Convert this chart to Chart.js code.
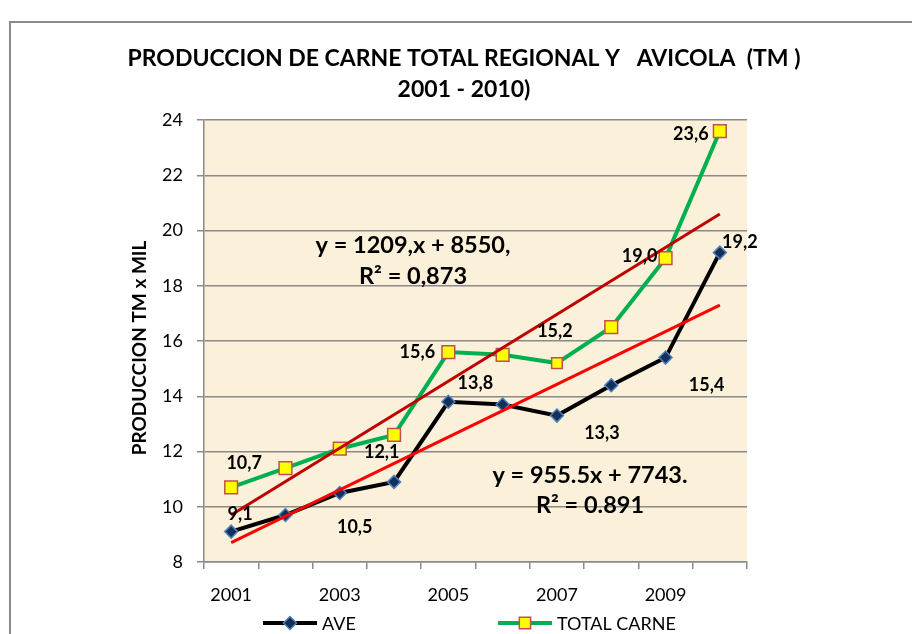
<!DOCTYPE html>
<html>
<head>
<meta charset="utf-8">
<script src="https://cdn.jsdelivr.net/npm/chart.js@4.4.0/dist/chart.umd.min.js"></script>
<style>
    html, body { margin: 0; padding: 0; background: #fff; }
    #wrap { width: 912px; height: 634px; }
</style>
</head>
<body>
<div id="wrap"><canvas id="chart" width="912" height="634"></canvas></div>
<script>
const years = ['2001', '2002', '2003', '2004', '2005', '2006', '2007', '2008', '2009', '2010'];
const aveValues = [9.1, 9.7, 10.5, 10.9, 13.8, 13.7, 13.3, 14.4, 15.4, 19.2];
const totalValues = [10.7, 11.4, 12.1, 12.6, 15.6, 15.5, 15.2, 16.5, 19.0, 23.6];
// trend lines, value at 2001 and at 2010
const aveTrend = [8.7, 17.3];
const totalTrend = [9.7, 20.6];
const yMin = 8;
const yMax = 24;
const yStep = 2;
const titleLines = ['PRODUCCION DE CARNE TOTAL REGIONAL Y   AVICOLA  (TM )', '2001 - 2010)'];
const yTitle = 'PRODUCCION TM x MIL';
const aveEquation = ['y = 955.5x + 7743.', 'R² = 0.891'];
const totalEquation = ['y = 1209,x + 8550,', 'R² = 0,873'];
const labelledPoints = [0, 2, 4, 6, 8, 9];

const FONT = 'Lato, "Open Sans", sans-serif';

// where each value label sits relative to its point (px)
const aveLabelOffset = {0: [9, -17], 2: [15, 34], 4: [27, -19], 6: [45, 18], 8: [41, 28], 9: [20, -10]};
const totalLabelOffset = {0: [13, -24], 2: [42, 3], 4: [-31, 0], 6: [-2, -32], 8: [-26, -2], 9: [-29, 3]};

function trendData(ends) {
    const arr = years.map(() => null);
    arr[0] = ends[0];
    arr[arr.length - 1] = ends[1];
    return arr;
}

function fmt(v) {
    return v.toFixed(1).replace('.', ',');
}

const decorPlugin = {
    id: 'decor',
    beforeDraw(chart) {
        const ctx = chart.ctx;
        const a = chart.chartArea;
        ctx.save();
        ctx.fillStyle = '#fbf0d9';
        ctx.fillRect(a.left, a.top, a.right - a.left, a.bottom - a.top);
        // outer frame
        ctx.strokeStyle = '#8a8a8a';
        ctx.lineWidth = 2;
        ctx.beginPath();
        ctx.moveTo(10, 634);
        ctx.lineTo(10, 22);
        ctx.lineTo(912, 22);
        ctx.stroke();
        ctx.restore();
    },
    afterDraw(chart) {
        const ctx = chart.ctx;
        ctx.save();
        ctx.fillStyle = '#000';
        ctx.textAlign = 'center';
        ctx.textBaseline = 'middle';

        ctx.font = 'bold 23px ' + FONT;
        ctx.fillText(titleLines[0], 464, 59);
        ctx.fillText(titleLines[1], 464, 90);

        ctx.save();
        ctx.translate(140, 348);
        ctx.rotate(-Math.PI / 2);
        ctx.font = 'bold 19px ' + FONT;
        ctx.fillText(yTitle, 0, 0);
        ctx.restore();

        ctx.font = 'bold 23.5px ' + FONT;
        ctx.fillText(totalEquation[0], 413, 245);
        ctx.fillText(totalEquation[1], 413, 276);
        ctx.fillText(aveEquation[0], 590, 475);
        ctx.fillText(aveEquation[1], 590, 505);

        // value labels
        ctx.font = 'bold 18px ' + FONT;
        const aveMeta = chart.getDatasetMeta(2);
        const totalMeta = chart.getDatasetMeta(3);
        labelledPoints.forEach(function (i) {
            let p = aveMeta.data[i];
            let o = aveLabelOffset[i];
            ctx.fillText(fmt(aveValues[i]), p.x + o[0], p.y + o[1]);
            p = totalMeta.data[i];
            o = totalLabelOffset[i];
            ctx.fillText(fmt(totalValues[i]), p.x + o[0], p.y + o[1]);
        });

        // legend
        ctx.font = '18px ' + FONT;
        ctx.textAlign = 'left';
        const items = [
            {ds: chart.data.datasets[2], x: 263, text: 'AVE'},
            {ds: chart.data.datasets[3], x: 498, text: 'TOTAL CARNE'}
        ];
        const ly = 623;
        items.forEach(function (it) {
            ctx.strokeStyle = it.ds.borderColor;
            ctx.lineWidth = it.ds.borderWidth;
            ctx.beginPath();
            ctx.moveTo(it.x, ly);
            ctx.lineTo(it.x + 54, ly);
            ctx.stroke();
            ctx.fillStyle = it.ds.pointBackgroundColor;
            ctx.strokeStyle = it.ds.pointBorderColor;
            ctx.lineWidth = it.ds.pointBorderWidth;
            Chart.helpers.drawPoint(ctx, {
                pointStyle: it.ds.pointStyle,
                radius: it.ds.legendRadius,
                borderWidth: it.ds.pointBorderWidth,
                rotation: 0
            }, it.x + 27, ly);
            ctx.fillStyle = '#000';
            ctx.fillText(it.text, it.x + 59, ly + 1);
        });
        ctx.restore();
    }
};

const chart = new Chart(document.getElementById('chart'), {
    type: 'line',
    data: {
        labels: years,
        datasets: [
            {
                label: 'trend total',
                data: trendData(totalTrend),
                borderColor: '#c00000',
                borderWidth: 3,
                pointRadius: 0,
                spanGaps: true
            },
            {
                label: 'trend ave',
                data: trendData(aveTrend),
                borderColor: '#ff0000',
                borderWidth: 3,
                pointRadius: 0,
                spanGaps: true
            },
            {
                label: 'AVE',
                data: aveValues,
                borderColor: '#000000',
                borderWidth: 4,
                pointStyle: 'rectRot',
                pointRadius: 6.5,
                legendRadius: 6.5,
                pointBackgroundColor: '#14305a',
                pointBorderColor: '#4f81bd',
                pointBorderWidth: 1.5
            },
            {
                label: 'TOTAL CARNE',
                data: totalValues,
                borderColor: '#00b050',
                borderWidth: 4,
                pointStyle: 'rect',
                pointRadius: [9, 9, 9, 9, 9, 9, 7.5, 9, 9, 9],
                legendRadius: 8,
                pointBackgroundColor: '#ffff00',
                pointBorderColor: '#c0504d',
                pointBorderWidth: 1.5
            }
        ]
    },
    options: {
        responsive: false,
        animation: false,
        layout: {
            padding: {left: 144, right: 165, top: 120, bottom: 22}
        },
        elements: {
            line: {tension: 0}
        },
        plugins: {
            legend: {display: false},
            title: {display: false},
            tooltip: {enabled: false}
        },
        scales: {
            x: {
                offset: true,
                grid: {
                    offset: true,
                    drawOnChartArea: false,
                    drawTicks: true,
                    tickLength: 7,
                    color: '#8a8a8a',
                    lineWidth: 1.5
                },
                border: {color: '#8a8a8a', width: 1.5},
                ticks: {
                    autoSkip: false,
                    maxRotation: 0,
                    padding: 15,
                    color: '#000',
                    font: {family: FONT, size: 18},
                    callback: function (v, i) {
                        return i % 2 === 0 ? years[i] : '';
                    }
                },
                afterFit: function (s) { s.height = 50; }
            },
            y: {
                min: yMin,
                max: yMax,
                grid: {
                    color: '#8a8a8a',
                    lineWidth: 1.5,
                    tickLength: 7
                },
                border: {color: '#8a8a8a', width: 1.5},
                ticks: {
                    stepSize: yStep,
                    padding: 14,
                    color: '#000',
                    font: {family: FONT, size: 18}
                },
                afterFit: function (s) { s.width = 60; }
            }
        }
    },
    plugins: [decorPlugin]
});
</script>
</body>
</html>
